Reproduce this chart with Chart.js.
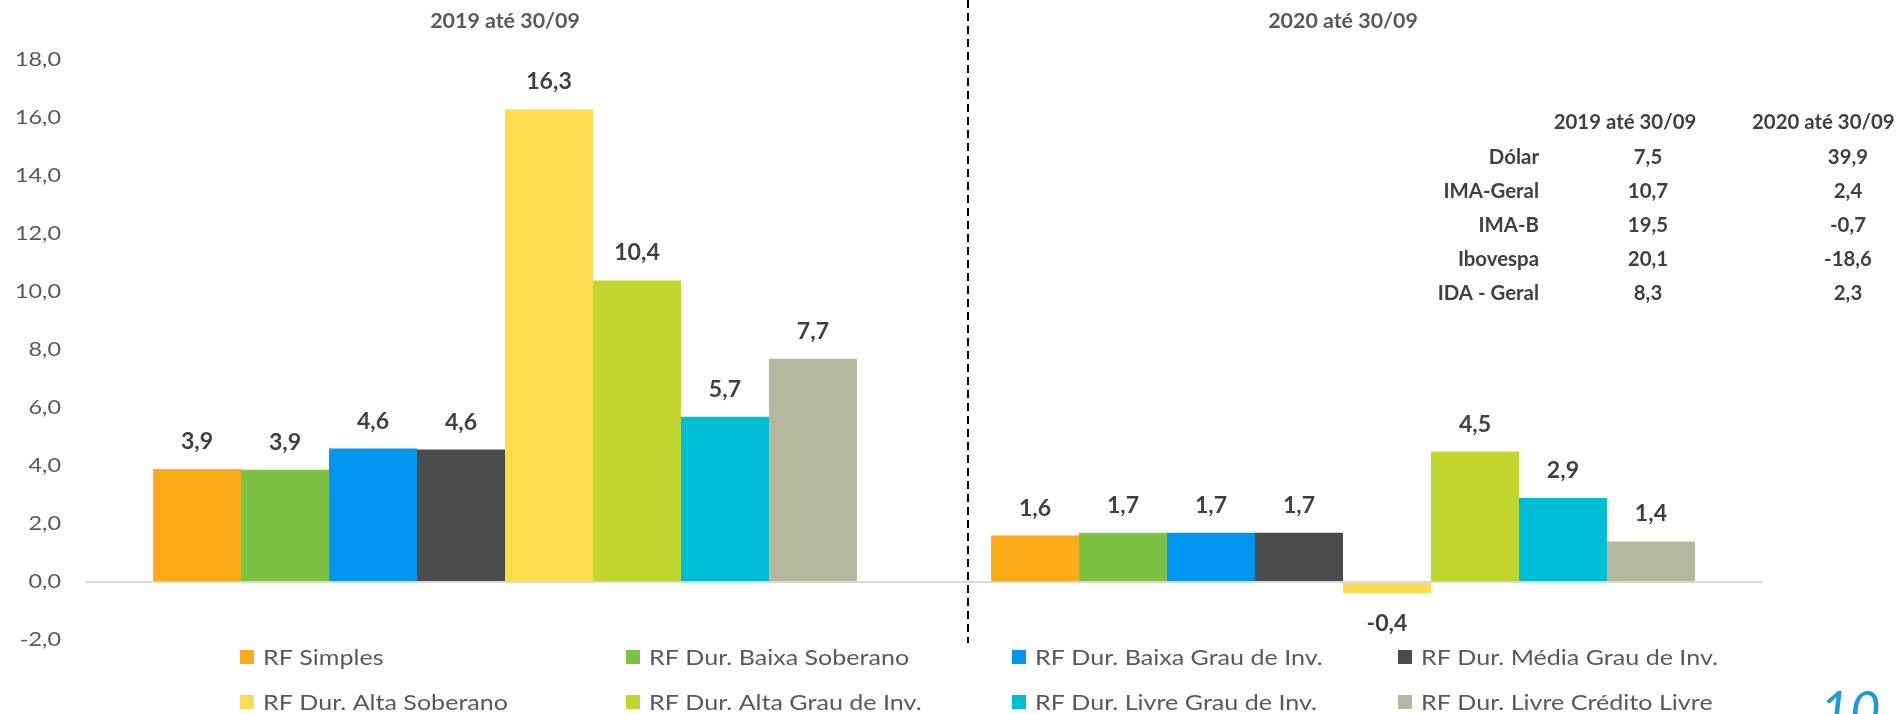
<!DOCTYPE html>
<html>
<head>
<meta charset="utf-8">
<script src="https://cdn.jsdelivr.net/npm/chart.js@4"></script>
<style>
  body { margin: 0; background: #fff; }
</style>
</head>
<body>
<canvas id="chart" width="1899" height="714"></canvas>
<script>
// categorias (periodos)
const periods = ['2019 até 30/09', '2020 até 30/09'];

// series
const seriesNames = [
    'RF Simples', 'RF Dur. Baixa Soberano', 'RF Dur. Baixa Grau de Inv.', 'RF Dur. Média Grau de Inv.',
    'RF Dur. Alta Soberano', 'RF Dur. Alta Grau de Inv.', 'RF Dur. Livre Grau de Inv.', 'RF Dur. Livre Crédito Livre'
];
const seriesColors = ['#FBAB19', '#7DC242', '#0096F0', '#4A4B4D', '#FFDC50', '#C1D72F', '#00BDD6', '#B6B89E'];
const values2019 = [3.9, 3.87, 4.6, 4.57, 16.3, 10.4, 5.7, 7.7];
const values2020 = [1.6, 1.7, 1.7, 1.7, -0.4, 4.5, 2.9, 1.4];

// tabela de indices
const indexNames = ['Dólar', 'IMA-Geral', 'IMA-B', 'Ibovespa', 'IDA - Geral'];
const index2019 = [7.5, 10.7, 19.5, 20.1, 8.3];
const index2020 = [39.9, 2.4, -0.7, -18.6, 2.3];

const yTicks = [-2, 0, 2, 4, 6, 8, 10, 12, 14, 16, 18];

const fmt = v => v.toFixed(1).replace('.', ',');
const FONT = 'Lato, "Open Sans", sans-serif';

// texto levemente esticado na horizontal (a fonte original e mais larga)
function stretchText(ctx, text, x, y, align, sx) {
    ctx.save();
    ctx.translate(x, y);
    ctx.scale(sx, 1);
    ctx.textAlign = align;
    ctx.fillText(text, 0, 0);
    ctx.restore();
}

const datasets = seriesNames.map((name, i) => ({
    label: name,
    data: [values2019[i], values2020[i]],
    backgroundColor: seriesColors[i],
    borderWidth: 0,
    barPercentage: 1,
    categoryPercentage: 0.84
}));

// rotulos de valor sobre as barras
const valueLabels = {
    id: 'valueLabels',
    afterDatasetsDraw(chart) {
        const ctx = chart.ctx;
        ctx.save();
        ctx.font = 'bold 22px ' + FONT;
        ctx.fillStyle = '#404040';
        ctx.textBaseline = 'middle';
        chart.data.datasets.forEach((ds, i) => {
            chart.getDatasetMeta(i).data.forEach((bar, j) => {
                const v = ds.data[j];
                const y = v >= 0 ? bar.y - 27 : bar.y + 30;
                stretchText(ctx, fmt(v), bar.x, y, 'center', 1.05);
            });
        });
        ctx.restore();
    }
};

// eixos, linha divisoria, tabela, legenda e numero da pagina
const extras = {
    id: 'extras',
    afterDraw(chart) {
        const ctx = chart.ctx;
        const area = chart.chartArea;
        const xs = chart.scales.x;
        const ys = chart.scales.y;
        ctx.save();
        ctx.textBaseline = 'middle';

        // titulos dos periodos
        ctx.fillStyle = '#595959';
        ctx.font = 'bold 20px ' + FONT;
        periods.forEach((p, i) => {
            stretchText(ctx, p, xs.getPixelForValue(i), 22, 'center', 1.07);
        });

        // rotulos do eixo y
        ctx.font = '20px ' + FONT;
        yTicks.forEach(v => {
            stretchText(ctx, fmt(v), area.left - 25, ys.getPixelForValue(v), 'right', 1.17);
        });

        // linha tracejada entre os periodos
        ctx.strokeStyle = '#000';
        ctx.lineWidth = 2;
        ctx.setLineDash([8, 5]);
        ctx.beginPath();
        ctx.moveTo(968, 0);
        ctx.lineTo(968, area.bottom + 3);
        ctx.stroke();
        ctx.setLineDash([]);

        // tabela
        ctx.fillStyle = '#404040';
        ctx.font = 'bold 20px ' + FONT;
        stretchText(ctx, periods[0], 1625, 123, 'center', 1.02);
        stretchText(ctx, periods[1], 1752, 123, 'left', 1.02);
        indexNames.forEach((name, i) => {
            const y = 158 + i * 34;
            stretchText(ctx, name, 1539, y, 'right', 1.02);
            stretchText(ctx, fmt(index2019[i]), 1648, y, 'center', 1.02);
            stretchText(ctx, fmt(index2020[i]), 1848, y, 'center', 1.02);
        });

        // legenda em grade 4x2
        const colX = [240, 626, 1012, 1398];
        const rowY = [657, 702];
        ctx.font = '22px ' + FONT;
        chart.data.datasets.forEach((ds, i) => {
            const x = colX[i % 4];
            const y = rowY[Math.floor(i / 4)];
            ctx.fillStyle = ds.backgroundColor;
            ctx.fillRect(x, y - 7, 14, 14);
            ctx.fillStyle = '#595959';
            stretchText(ctx, ds.label, x + 23, y + 1, 'left', 1.14);
        });

        // numero do slide
        ctx.fillStyle = '#1B9AD6';
        ctx.font = 'italic 52px ' + FONT;
        ctx.textBaseline = 'alphabetic';
        ctx.textAlign = 'left';
        ctx.fillText('10', 1820, 729);
        ctx.restore();
    }
};

new Chart(document.getElementById('chart'), {
    type: 'bar',
    data: {
        labels: periods,
        datasets: datasets
    },
    options: {
        responsive: false,
        animation: false,
        layout: {
            padding: { top: 60, left: 0, right: 137, bottom: 74 }
        },
        plugins: {
            legend: { display: false },
            tooltip: { enabled: false }
        },
        scales: {
            x: {
                display: false
            },
            y: {
                min: -2,
                max: 18,
                afterBuildTicks(scale) {
                    scale.ticks = yTicks.map(v => ({ value: v }));
                },
                grid: {
                    drawTicks: false,
                    color: c => (c.tick && c.tick.value === 0) ? '#D9D9D9' : 'rgba(0,0,0,0)',
                    lineWidth: 2
                },
                border: { display: false },
                ticks: { display: false },
                afterFit(scale) { scale.width = 86; }
            }
        }
    },
    plugins: [valueLabels, extras]
});
</script>
</body>
</html>
